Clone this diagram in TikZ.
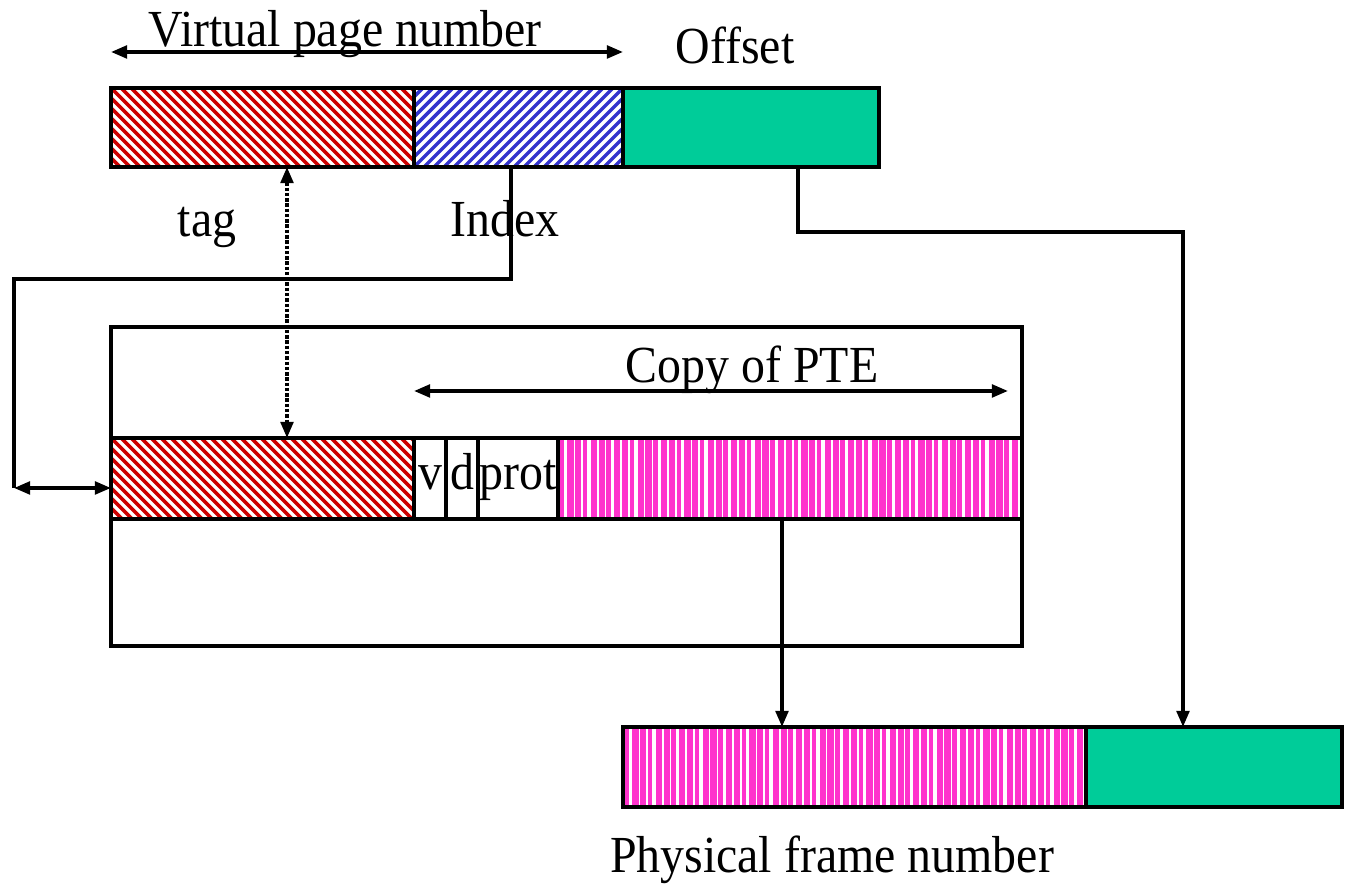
\documentclass[tikz,border=0pt]{standalone}
\usepackage{fontspec}
\setmainfont{Liberation Serif}[FakeStretch=0.92]
\usetikzlibrary{arrows.meta,positioning,calc}

\definecolor{tagred}{RGB}{204,0,0}
\definecolor{idxblue}{RGB}{51,51,204}
\definecolor{offgreen}{RGB}{0,204,153}
\definecolor{pfnpink}{RGB}{255,51,204}

\tikzset{
  field/.style={draw, line width=1pt, minimum height=0.8cm, inner sep=0pt, outer sep=0pt},
  tagfield/.style={field, path picture={
      \foreach \k in {-1.0,-0.9,...,3.1}
        \draw[tagred, line width=1pt] ([xshift=\k cm]path picture bounding box.north west) -- ++(0.95,-0.95);
    }},
  idxfield/.style={field, path picture={
      \foreach \k in {-1.0,-0.9,...,2.2}
        \draw[idxblue, line width=1pt] ([xshift=\k cm]path picture bounding box.south west) -- ++(0.95,0.95);
    }},
  pfnfield/.style={field, path picture={
      \foreach \k [count=\i] in {0.015,0.093,...,4.7}{
        \pgfmathsetmacro{\w}{mod(\i,3)==1 ? 0.045 : 0.062}
        \fill[pfnpink] ([xshift=\k cm]path picture bounding box.south west) rectangle ++(\w,0.9);
      }
    }},
  offfield/.style={field, fill=offgreen},
  bitfield/.style={field, font=\fontsize{14.8}{17}\selectfont, text height=0.8em, text depth=0.2em},
  lbl/.style={inner sep=0pt, anchor=base, font=\fontsize{14.8}{17}\selectfont},
  link/.style={line width=1pt},
}

\begin{document}
\begin{tikzpicture}[>={Triangle[length=4.6pt,width=3.6pt]}]
  \useasboundingbox (0,0) rectangle (13.5,8.87);

  % virtual address
  \node[tagfield, minimum width=3.03cm, minimum height=0.79cm] (vtag) at (2.625,7.595) {};
  \node[idxfield, minimum width=2.09cm, minimum height=0.79cm, right=0pt of vtag] (vidx) {};
  \node[offfield, minimum width=2.56cm, minimum height=0.79cm, right=0pt of vidx] (voff) {};

  \node[lbl] (vpnlbl) at (3.45,8.40) {Virtual page number};
  \coordinate (vpnL) at (1.11,8.35);
  \coordinate (vpnR) at (6.23,8.35);
  \draw[link,<->] (vpnL) -- (vpnR);
  \node[lbl] (offlbl) at (7.35,8.23) {Offset};
  \node[lbl] (taglbl) at (2.07,6.50) {tag};
  \node[lbl] (idxlbl) at (5.05,6.50) {Index};

  % TLB
  \node[field, minimum width=9.11cm, minimum height=3.19cm] (tlb) at (5.665,4.005) {};
  \node[tagfield, minimum width=3.03cm, minimum height=0.81cm] (tlbtag) at (2.625,4.085) {};
  \node[bitfield, minimum width=0.32cm, minimum height=0.81cm, right=0pt of tlbtag] (vbit) {v};
  \node[bitfield, minimum width=0.32cm, minimum height=0.81cm, right=0pt of vbit] (dbit) {d};
  \node[bitfield, minimum width=0.80cm, minimum height=0.81cm, right=0pt of dbit] (prot) {prot};
  \node[pfnfield, minimum width=4.64cm, minimum height=0.81cm, right=0pt of prot] (tlbpfn) {};

  \node[lbl] (ptelbl) at (7.52,5.04) {Copy of PTE};
  \coordinate (pteL) at (4.14,4.96);
  \coordinate (pteR) at (10.08,4.96);
  \draw[link,<->] (pteL) -- (pteR);

  % physical address
  \node[pfnfield, minimum width=4.63cm, minimum height=0.80cm] (ppfn) at (8.545,1.20) {};
  \node[offfield, minimum width=2.56cm, minimum height=0.80cm, right=0pt of ppfn] (poff) {};
  \node[lbl] (pfnlbl) at (8.32,0.14) {Physical frame number};

  % index lookup
  \coordinate (idxleft) at (0.14,6.08);
  \coordinate (idxfoot) at (0.14,3.99);
  \draw[link] ([xshift=-0.075cm]vidx.south) |- (idxleft) -- (idxfoot);
  \draw[link,<->] (idxfoot) -- (idxfoot -| tlbtag.west);

  % tag compare
  \draw[link,<->,dash pattern=on 1pt off 0.5pt] ([xshift=0.245cm]vtag.south) -- ([xshift=0.245cm]tlbtag.north);

  % offset copy
  \coordinate (offbend) at (11.83,6.55);
  \draw[link,->] ([xshift=0.47cm]voff.south) |- (offbend) -- (offbend |- poff.north);

  % frame number
  \draw[link,->] ([xshift=-0.08cm]tlbpfn.south) -- ([xshift=-0.08cm]tlbpfn.south |- ppfn.north);
\end{tikzpicture}
\end{document}
